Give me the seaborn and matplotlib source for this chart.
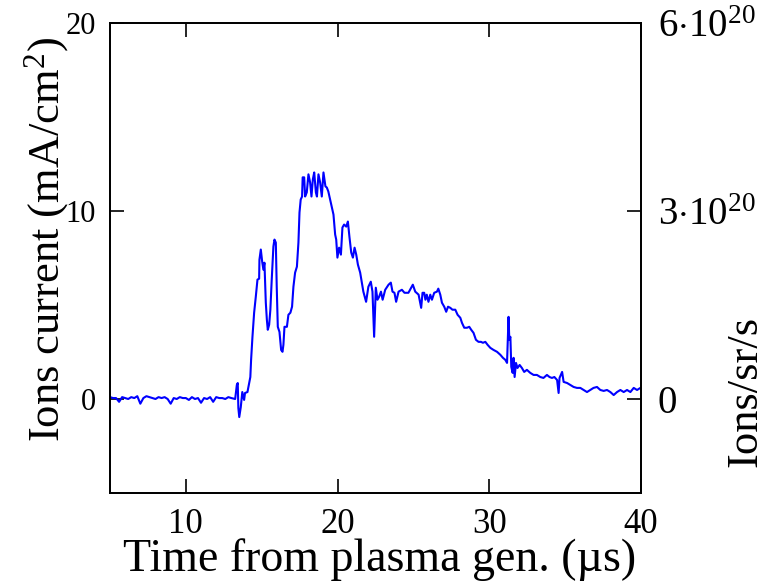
import matplotlib
matplotlib.use("Agg")
import matplotlib.pyplot as plt
import seaborn as sns
import pandas as pd

# ---- data ----
time_us = [
    5.0, 5.2, 5.4, 5.6, 5.8, 6.0, 6.2, 6.4, 6.6, 6.8, 7.0, 7.2, 7.4, 7.6, 7.8,
    8.0, 8.2, 8.4, 8.6, 8.8, 9.0, 9.2, 9.4, 9.6, 9.8, 10.0, 10.2, 10.4, 10.6,
    10.8, 11.0, 11.2, 11.4, 11.6, 11.8, 12.0, 12.2, 12.4, 12.6, 12.8, 13.0,
    13.25, 13.36, 13.42, 13.46, 13.52, 13.62, 13.72, 13.84, 13.90, 14.06, 14.17,
    14.25, 14.30, 14.39, 14.50, 14.61, 14.72, 14.83, 14.85, 14.94, 15.03, 15.11,
    15.18, 15.27, 15.34, 15.40, 15.49, 15.57, 15.66, 15.77, 15.84, 15.93, 15.99,
    16.06, 16.17, 16.28, 16.37, 16.43, 16.50, 16.66, 16.76, 16.89, 17.00, 17.09,
    17.20, 17.32, 17.42, 17.49, 17.57, 17.66, 17.70, 17.80, 17.86, 17.97, 18.08,
    18.19, 18.28, 18.37, 18.46, 18.57, 18.64, 18.74, 18.85, 18.96, 19.07, 19.20,
    19.29, 19.39, 19.51, 19.62, 19.73, 19.84, 19.91, 19.99, 20.10, 20.22, 20.32,
    20.43, 20.57, 20.68, 20.78, 20.90, 21.01, 21.12, 21.23, 21.34, 21.49, 21.70,
    21.88, 22.03, 22.19, 22.30, 22.41, 22.52, 22.63, 22.74, 22.86, 22.97, 23.14,
    23.36, 23.51, 23.62, 23.75, 23.86, 24.02, 24.24, 24.41, 24.67, 24.78, 24.96,
    25.12, 25.34, 25.51, 25.60, 25.71, 25.79, 25.88, 25.99, 26.11, 26.22, 26.37,
    26.55, 26.64, 26.77, 26.88, 27.03, 27.16, 27.28, 27.43, 27.57, 27.76, 27.91,
    28.09, 28.20, 28.35, 28.53, 28.68, 28.81, 28.96, 29.12, 29.29, 29.45, 29.58,
    29.74, 29.89, 30.07, 30.28, 30.51, 30.73, 30.90, 31.06, 31.17, 31.27, 31.32,
    31.39, 31.45, 31.54, 31.60, 31.67, 31.76, 31.86, 32.00, 32.15, 32.30, 32.48,
    32.70, 32.92, 33.14, 33.36, 33.57, 33.80, 33.97, 34.13, 34.29, 34.47, 34.57,
    34.63, 34.80, 34.90, 35.13, 35.34, 35.56, 35.78, 36.00, 36.22, 36.44, 36.66,
    36.87, 37.10, 37.32, 37.54, 37.76, 37.98, 38.20, 38.42, 38.64, 38.86, 39.08,
    39.30, 39.52, 39.74, 39.96,
]
current_mA_cm2 = [
    0.10, 0.05, 0.05, -0.15, 0.10, 0.05, 0.00, 0.10, 0.05, 0.15, -0.25, 0.05,
    0.15, 0.10, 0.05, 0.00, 0.10, 0.05, 0.10, 0.00, -0.25, 0.05, 0.00, 0.10,
    0.05, 0.05, -0.05, 0.10, 0.00, 0.05, -0.20, 0.05, 0.00, 0.10, -0.15, 0.10,
    0.05, 0.05, 0.00, 0.10, 0.05,
    0.00, 0.75, 0.85, -0.48, -0.96, -0.43, 0.37, -0.05, 0.32, 0.37, 0.85,
    1.17, 2.08, 3.31, 4.59, 5.44, 6.35, 6.40, 7.41, 7.95, 7.31, 6.88,
    7.25, 5.12, 4.21, 3.68, 3.95, 4.75, 6.35, 8.11, 8.48, 8.32, 5.97,
    3.84, 3.57, 2.61, 2.51, 2.88, 3.84, 3.84, 4.48, 4.59, 4.91, 5.97,
    6.72, 7.04, 8.32, 9.92, 10.61, 10.77, 11.79, 11.79, 10.77, 10.99, 11.95,
    11.52, 10.77, 11.68, 12.05, 10.99, 10.77, 11.95, 11.52, 10.77, 12.05, 11.31,
    11.25, 11.04, 10.61, 10.24, 9.81, 8.75, 8.48, 7.52, 8.05, 7.68, 9.12,
    9.28, 9.17, 9.44, 8.64, 7.79, 7.52, 8.05, 7.68, 7.15, 6.72, 5.71,
    5.17, 5.97, 6.24, 5.71, 3.31, 5.92, 5.28, 5.44, 5.71, 5.28, 5.81,
    6.08, 6.19, 5.71, 5.65, 5.17, 5.71, 5.81, 5.65, 5.65, 5.81, 6.08,
    5.71, 5.55, 4.85, 5.65, 5.65, 5.28, 5.55, 5.17, 5.55, 5.28, 5.65,
    5.71, 5.87, 5.55, 5.12, 4.91, 4.64, 4.91, 4.85, 4.75, 4.75, 4.48,
    4.32, 4.05, 3.79, 3.79, 3.84, 3.68, 3.52, 3.15, 3.04, 3.04, 2.99,
    3.04, 2.88, 2.72, 2.61, 2.51, 2.35, 2.19, 2.08, 1.92, 4.37, 3.15,
    3.31, 1.71, 1.39, 2.19, 1.17, 1.92, 1.65, 1.81, 1.65, 1.44, 1.55,
    1.39, 1.28, 1.28, 1.17, 1.12, 1.28, 1.17, 1.12, 1.17, 1.01, 0.32,
    1.12, 1.44, 0.91, 0.85, 0.75, 0.64, 0.59, 0.59, 0.48, 0.37, 0.48,
    0.59, 0.64, 0.48, 0.43, 0.48, 0.37, 0.21, 0.37, 0.48, 0.37, 0.48,
    0.37, 0.59, 0.48, 0.59,
]
x_ticks = [10, 20, 30, 40]
y_ticks = [0, 10, 20]
right_tick_labels = ["0", r"$3{\cdot}10^{20}$", r"$6{\cdot}10^{20}$"]
x_label = "Time from plasma gen. (µs)"
y_label = r"Ions current (mA/cm$^2$)"
right_label = "Ions/sr/s"

df = pd.DataFrame({"t": time_us, "i": current_mA_cm2})

# ---- style ----
sns.set_style("ticks")
plt.rcParams["font.family"] = ["Liberation Serif", "DejaVu Serif"]
plt.rcParams["mathtext.fontset"] = "custom"
plt.rcParams["mathtext.rm"] = "Liberation Serif"
plt.rcParams["mathtext.it"] = "Liberation Serif:italic"
plt.rcParams["mathtext.bf"] = "Liberation Serif:bold"
for k in ["text.color", "axes.labelcolor", "xtick.color", "ytick.color",
          "axes.edgecolor"]:
    plt.rcParams[k] = "black"

fig = plt.figure(figsize=(7.75, 5.83), dpi=100)
ax = fig.add_axes([110 / 775, 1 - 493 / 583, 531 / 775, 470 / 583])

sns.lineplot(data=df, x="t", y="i", ax=ax, color="#0000ff", linewidth=1.5,
             estimator=None, sort=False)

ax.set_xlim(5, 40)
ax.set_ylim(-5, 20)
ax.set_xticks(x_ticks)
ax.set_yticks(y_ticks)
ax.set_xlabel("")
ax.set_ylabel("")
for s in ax.spines.values():
    s.set_linewidth(1.3)
    s.set_color("black")
ax.tick_params(axis="both", direction="in", length=10, width=1.2,
               top=True, right=False, labelsize=22, colors="black")
ax.tick_params(axis="x", pad=11, labelsize=25)
ax.tick_params(axis="y", pad=10)

ax2 = ax.twinx()
ax2.set_ylim(-5, 20)
ax2.set_yticks(y_ticks)
ax2.set_yticklabels(right_tick_labels)
ax2.tick_params(axis="y", direction="in", length=10, width=1.2,
                labelsize=28, pad=12, colors="black")
for s in ax2.spines.values():
    s.set_linewidth(1.3)
    s.set_color("black")

fig.text(380 / 775, 1 - 571 / 583, x_label, ha="center", va="baseline",
         fontsize=33)
fig.text(47 / 775, 1 - 240 / 583, y_label, ha="center", va="center",
         rotation=90, fontsize=32)
fig.text(745 / 775, 1 - 391 / 583, right_label, ha="center", va="center",
         rotation=90, fontsize=32)

fig.savefig("out.png", dpi=100)
